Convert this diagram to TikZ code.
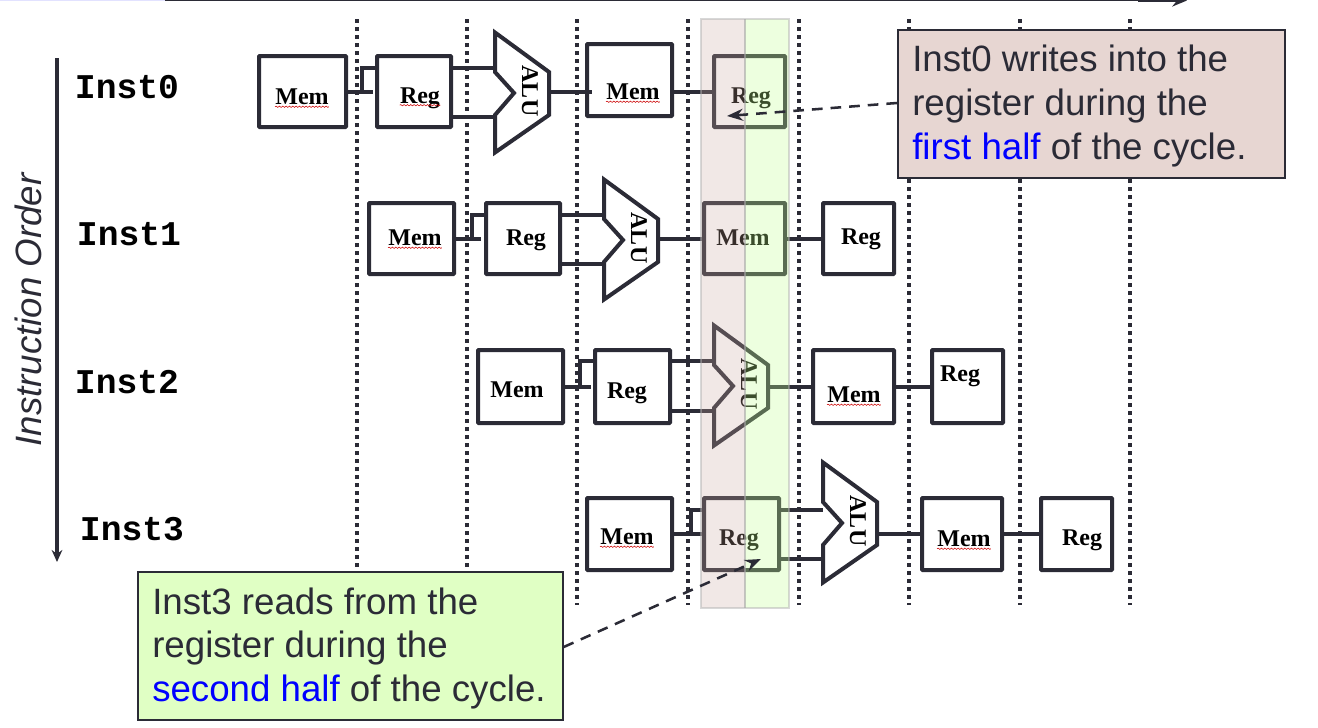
\documentclass[tikz,border=0pt]{standalone}
\usepackage{fontspec}
\setmainfont{Liberation Sans}
\newfontfamily\labelfont{Liberation Serif}
\newfontfamily\instfont{Liberation Mono}
\usepackage{xcolor}
\usetikzlibrary{arrows.meta, positioning, calc}
\usetikzlibrary{decorations.pathmorphing}

\definecolor{ink}{HTML}{2B2B36}
\definecolor{notered}{HTML}{E7D6D2}
\definecolor{notegreen}{HTML}{E0FFC4}
\definecolor{bandred}{rgb}{0.80,0.67,0.63}
\definecolor{bandgreen}{rgb}{0.77,1,0.58}
\definecolor{stagetext}{HTML}{2B2B36}
\definecolor{lavender}{HTML}{E2E2FF}

\tikzset{
  stagebox/.style={draw=ink, line width=3pt, rounded corners=0.5pt, inner sep=0pt},
  stagelabel/.style={font=\labelfont\bfseries\fontsize{18}{20}\selectfont, text=black, inner sep=0pt},
  squiggle/.style={draw=red!80!black, line width=0.4pt, decorate, decoration={snake, amplitude=0.5pt, segment length=2.5pt}},
  wire/.style={draw=ink, line width=2.6pt},
  alubody/.style={draw=ink, line width=3pt, line join=miter},
  alutext/.style={font=\labelfont\bfseries\fontsize{18}{20}\selectfont, rotate=-90, inner sep=0pt},
  inst/.style={font=\instfont\bfseries\fontsize{26}{28}\selectfont, text=black, inner sep=0pt},
  note/.style={draw=ink, line width=1.3pt, anchor=north west, inner sep=0pt},
  notetext/.style={font=\fontsize{27.5}{33}\selectfont, text=stagetext, align=left, anchor=base west, inner sep=0pt},
  pointer/.style={draw=ink, line width=1.9pt, dash pattern=on 8pt off 6pt, -{Stealth[length=12pt,width=9pt]}},
  cycle/.style={line width=3pt, draw=ink, dash pattern=on 3pt off 3pt}
}

% one ALU with its corner at (#2,#3), named #1
\newcommand{\aluat}[3]{
  \coordinate (#1a) at (#2,#3);
  \coordinate (#1i) at (#2,#3+39);
  \coordinate (#1j) at (#2,#3+87);
  \coordinate (#1o) at (#2+54,#3+62);
  \draw[alubody] (#2,#3+1.5) -- (#2+54,#3+41) -- (#2+54,#3+84) -- (#2,#3+121.5) -- (#2,#3+84)
     -- (#2+19,#3+62) -- (#2,#3+41) -- cycle;
  \node[alutext] (#1t) at (#2+35,#3+60) {ALU};
}

% one box from (#2,#3) to (#4,#5), named #1
\newcommand{\boxat}[5]{
  \node[stagebox, minimum width=(#4-#2-2)*0.75pt, minimum height=(#5-#3-2)*0.75pt] (#1) at ({(#2+#4)/2},{(#3+#5)/2}) {};
}

\begin{document}
\begin{tikzpicture}[x=0.75pt, y=-0.75pt]
\useasboundingbox (0,0) rectangle (1318,728);

% Clock cycle boundaries
\foreach \xpos in {357, 467, 577, 688, 799, 909, 1020, 1130}{
  \draw[cycle] (\xpos,19) -- (\xpos,605);
}

% Time arrow at the top edge
\coordinate (timeS) at (0,0.5);
\coordinate (timeL) at (165,0.5);
\coordinate (timeM) at (1138,0.5);
\coordinate (timeR) at (1187,0.5);
\draw[draw=lavender, line width=1pt] (timeS) -- (timeL);
\draw[draw=ink, line width=1.2pt] (timeL) -- (timeM);
\draw[draw=ink, line width=2.2pt, -{Stealth[length=11pt,width=9pt]}] (timeM) -- (timeR);

% Instruction order
\coordinate (orderT) at (57,58);
\coordinate (orderB) at (57,562);
\draw[draw=ink, line width=2.6pt, -{Stealth[length=9pt,width=8pt]}] (orderT) -- (orderB);
\node[rotate=90, font=\itshape\fontsize{27.5}{30}\selectfont, text=stagetext, inner sep=0pt] (order) at (28,310) {Instruction Order};

\node[inst] (inst0) at (127,87) {Inst0};
\node[inst] (inst1) at (129,234) {Inst1};
\node[inst] (inst2) at (127,382) {Inst2};
\node[inst] (inst3) at (132,529) {Inst3};

% Inst0
\boxat{mema}{258}{55}{347}{128}
\boxat{rega}{376}{55}{452}{128}
\aluat{alua}{495}{31}
\boxat{memb}{586}{43}{673}{117}
\boxat{regb}{713}{55}{786}{128}
\draw[wire] (mema.east |- 0,92) -- ++(25,0);
\draw[wire] (362,92) |- (rega.west |- 0,68);
\draw[wire] (rega.east |- 0,68) -- (aluai |- 0,68);
\draw[wire] (rega.east |- 0,117) -- (aluaj |- 0,117);
\draw[wire] (aluao |- 0,92) -- (592,92);
\draw[wire] (memb.east |- 0,92) -- (regb.west |- 0,92);
\node[stagelabel] (mematxt) at (302,97) {Mem};
\node[stagelabel] (regatxt) at (420,98) {Reg};
\node[stagelabel] (membtxt) at (633,92) {Mem};
\node[stagelabel] (regbtxt) at (751,98) {Reg};

% Inst1
\boxat{memc}{368}{202}{455}{275}
\boxat{regc}{485}{202}{561}{275}
\aluat{aluc}{604}{178}
\boxat{memd}{703}{202}{786}{275}
\boxat{regd}{822}{202}{895}{275}
\draw[wire] (memc.east |- 0,239) -- ++(25,0);
\draw[wire] (472,239) |- (regc.west |- 0,215);
\draw[wire] (regc.east |- 0,215) -- (aluci |- 0,215);
\draw[wire] (regc.east |- 0,264) -- (alucj |- 0,264);
\draw[wire] (aluco |- 0,239) -- (memd.west |- 0,239);
\draw[wire] (memd.east |- 0,239) -- (regd.west |- 0,239);
\node[stagelabel] (memctxt) at (415,238) {Mem};
\node[stagelabel] (regctxt) at (526,240) {Reg};
\node[stagelabel] (memdtxt) at (743,238) {Mem};
\node[stagelabel] (regdtxt) at (861,239) {Reg};

% Inst2
\boxat{meme}{477}{349}{564}{424}
\boxat{rege}{594}{349}{671}{424}
\aluat{alue}{714}{324}
\boxat{memf}{812}{349}{895}{424}
\boxat{regf}{931}{349}{1004}{424}
\draw[wire] (meme.east |- 0,387) -- ++(26,0);
\draw[wire] (580,387) |- (rege.west |- 0,361);
\draw[wire] (rege.east |- 0,361) -- (aluei |- 0,361);
\draw[wire] (rege.east |- 0,411) -- (aluej |- 0,411);
\draw[wire] (alueo |- 0,387) -- (memf.west |- 0,387);
\draw[wire] (memf.east |- 0,387) -- (regf.west |- 0,387);
\node[stagelabel] (memetxt) at (517,390) {Mem};
\node[stagelabel] (regetxt) at (627,393) {Reg};
\node[stagelabel] (memftxt) at (854,395) {Mem};
\node[stagelabel] (regftxt) at (960,376) {Reg};

% Inst3
\boxat{memg}{586}{497}{673}{571}
\boxat{regg}{703}{497}{780}{571}
\aluat{alug}{823}{461}
\boxat{memh}{921}{497}{1003}{571}
\boxat{regh}{1040}{497}{1113}{571}
\draw[wire] (memg.east |- 0,534) -- ++(28,0);
\draw[wire] (691,534) |- (regg.west |- 0,510);
\draw[wire] (regg.east |- 0,510) -- (alugi |- 0,510);
\draw[wire] (regg.east |- 0,559) -- (alugj |- 0,559);
\draw[wire] (alugo |- 0,534) -- (memh.west |- 0,534);
\draw[wire] (memh.east |- 0,534) -- (regh.west |- 0,534);
\node[stagelabel] (memgtxt) at (627,537) {Mem};
\node[stagelabel] (reggtxt) at (739,540) {Reg};
\node[stagelabel] (memhtxt) at (964,539) {Mem};
\node[stagelabel] (reghtxt) at (1082,540) {Reg};

% Spell checker marks
\foreach \word in {mematxt, regatxt, membtxt, memctxt, memftxt, memgtxt, memhtxt}{
  \draw[squiggle] ([yshift=-1.5pt]\word.base west) -- ([yshift=-1.5pt]\word.base east);
}

% Half cycle bands
\fill[bandred, opacity=0.27] (701,19) rectangle (745,608);
\fill[bandgreen, opacity=0.3] (745,19) rectangle (789,608);
\draw[gray!60, line width=1pt, opacity=0.5] (701,19) rectangle (789,608);
\draw[gray!70, line width=1.2pt, opacity=0.6] (745,19) -- (745,608);

% Callouts
\node[note, fill=notered, minimum width=387*0.75pt, minimum height=148*0.75pt] (writeNote) at (897,29) {};
\node[notetext] (writeA) at (912,71) {Inst0 writes into the};
\node[notetext] (writeB) at (912,115) {register during the};
\node[notetext] (writeC) at (912,159) {\textcolor{blue}{first half} of the cycle.};
\coordinate (writeEnd) at (727,116);
\draw[pointer] (writeNote.west |- 0,103) -- (writeEnd);

\node[note, fill=notegreen, minimum width=425*0.75pt, minimum height=148*0.75pt] (readNote) at (137,571) {};
\node[notetext] (readA) at (152,614) {Inst3 reads from the};
\node[notetext] (readB) at (152,657) {register during the};
\node[notetext] (readC) at (152,701) {\textcolor{blue}{second half} of the cycle.};
\coordinate (readEnd) at (761,559);
\draw[pointer] (readNote.east |- 0,647) -- (readEnd);

\end{tikzpicture}
\end{document}
